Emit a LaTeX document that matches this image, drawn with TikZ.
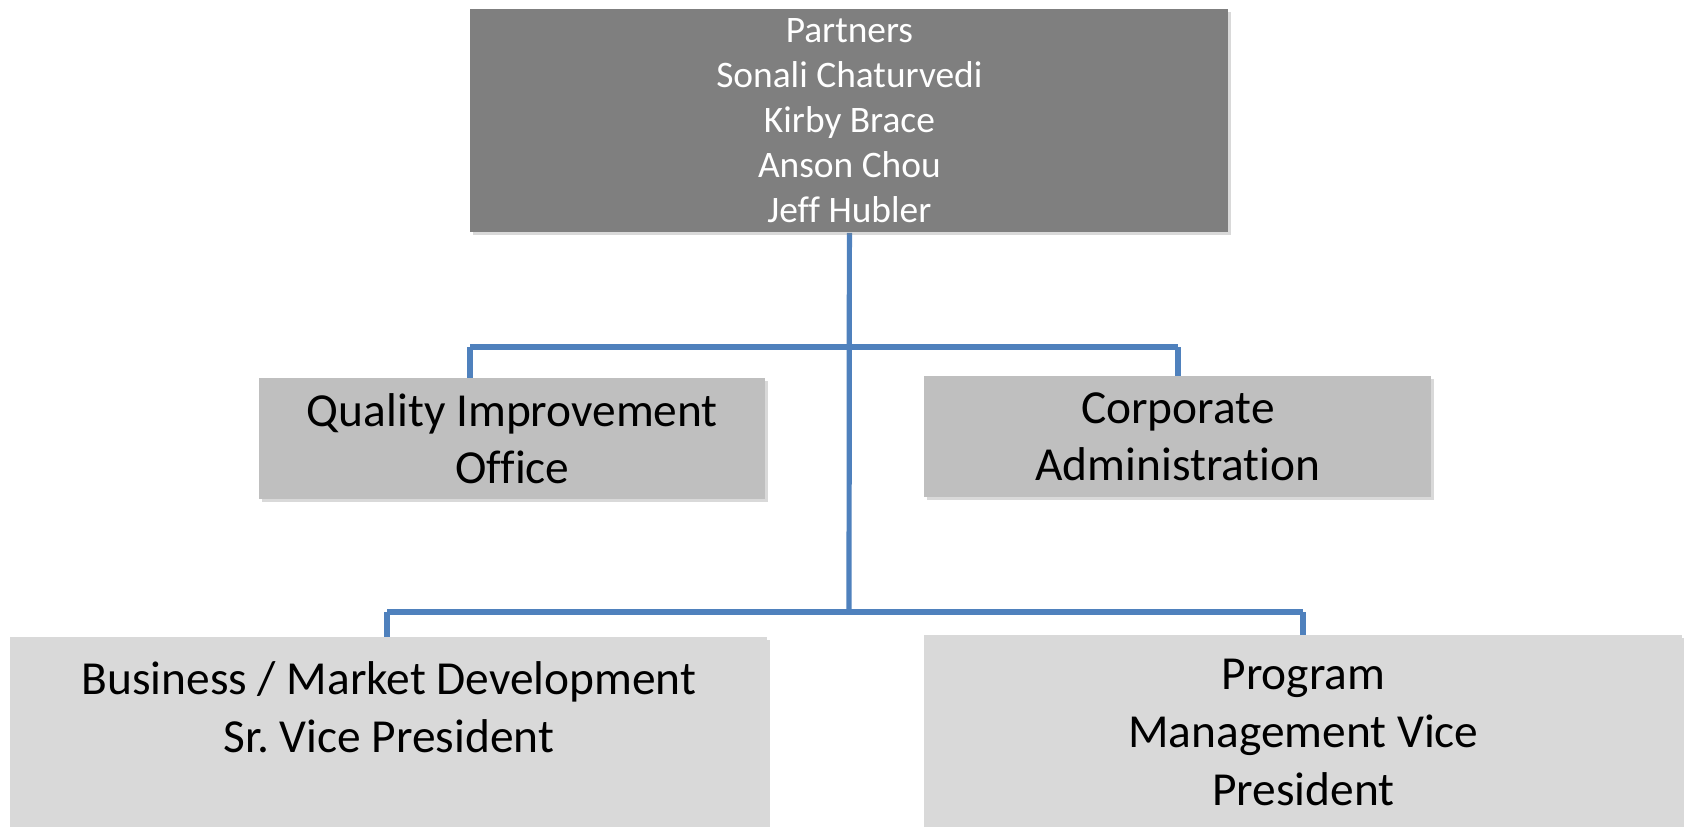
\documentclass[tikz,border=0pt]{standalone}
\usepackage{fontspec}
\setmainfont[Ligatures=NoCommon]{Carlito}
\frenchspacing
\usetikzlibrary{shadows,backgrounds}
\definecolor{topgray}{HTML}{7F7F7F}
\definecolor{midgray}{HTML}{BFBFBF}
\definecolor{lowgray}{HTML}{D9D9D9}
\definecolor{linkblue}{HTML}{4F81BD}
\tikzset{
  boxbase/.style={rectangle, inner sep=0pt, anchor=north west,
    drop shadow={shadow xshift=1.2pt, shadow yshift=-1.5pt, opacity=0.3}},
  topbox/.style={boxbase, fill=topgray, text=white, align=center,
    font=\fontsize{18.7pt}{22.5pt}\selectfont},
  midbox/.style={boxbase, fill=midgray, align=center,
    font=\fontsize{23.7pt}{28.5pt}\selectfont},
  lowbox/.style={boxbase, fill=lowgray},
  lowtext/.style={anchor=north, align=center, inner sep=0pt,
    font=\fontsize{23.7pt}{29pt}\selectfont},
  link/.style={draw=linkblue, line width=2.6pt}
}
\begin{document}
\begin{tikzpicture}[x=0.5pt, y=-0.5pt]
\useasboundingbox (0,0) rectangle (1684,826);
% boxes
\node[topbox, minimum width=379pt, minimum height=111.5pt] (top) at (470,9) {Partners\\Sonali Chaturvedi\\Kirby Brace\\Anson Chou\\Jeff Hubler};
\node[midbox, minimum width=253pt, minimum height=60.5pt] (qio) at (259,378) {Quality Improvement\\Office};
\node[midbox, minimum width=253.5pt, minimum height=60.5pt] (corp) at (924,376) {Corporate\\Administration};
\node[lowbox, minimum width=378.5pt, minimum height=100pt] (bmd) at (10,637) {};
\node[lowbox, minimum width=379pt, minimum height=100pt] (pmv) at (924,635) {};
\node[lowtext] (bmdt) at ([yshift=-12pt]bmd.north) {Business / Market Development\\Sr. Vice President};
\node[lowtext] (pmvt) at ([yshift=-12pt]pmv.north) {Program\\Management Vice\\President};
% junction coordinates
\coordinate (j2) at (849,612);
\coordinate (q1) at (470,347);
\coordinate (c1) at (1178,347);
\coordinate (b1) at (387,612);
\coordinate (p1) at (1303,612);
% connectors
\begin{scope}[on background layer]
\path[link] (top.south) -- (j2);
\path[link] (q1) -- (c1);
\path[link] (b1) -- (p1);
\path[link] (q1) -- (q1 |- qio.north);
\path[link] (c1) -- (c1 |- corp.north);
\path[link] (b1) -- (b1 |- bmd.north);
\path[link] (p1) -- (p1 |- pmv.north);
\end{scope}
\end{tikzpicture}
\end{document}
